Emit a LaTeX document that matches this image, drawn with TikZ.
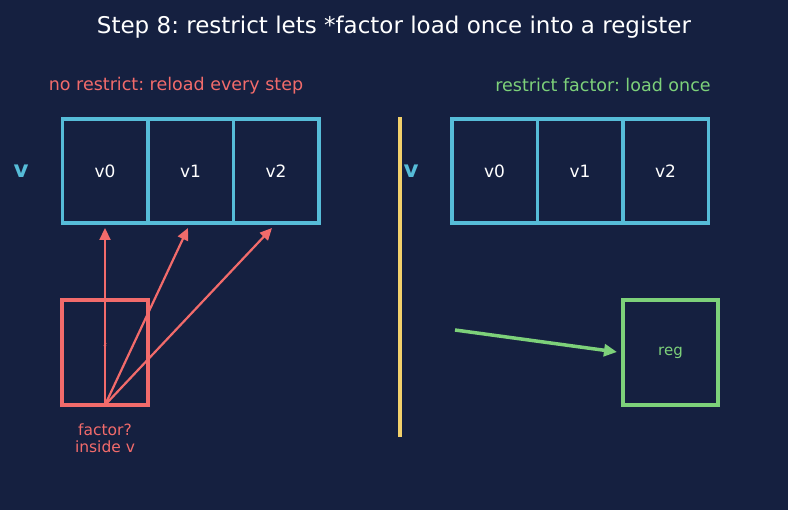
\documentclass[tikz,border=0pt]{standalone}
\usepackage{fontspec}
\setmainfont{DejaVu Sans}
\usetikzlibrary{arrows.meta}
\definecolor{bg}{HTML}{152040}
\definecolor{cy}{HTML}{56BCD8}
\definecolor{rd}{HTML}{F26B6B}
\definecolor{gn}{HTML}{7DD17A}
\definecolor{yl}{HTML}{F2D06B}
\frenchspacing
\begin{document}
\begin{tikzpicture}[x=1pt,y=-1pt,
  cell/.style={draw=cy,line width=3.5pt,minimum width=85.5pt,minimum height=104pt,inner sep=0pt,text=white,font=\fontsize{17}{20}\selectfont},
  vlab/.style={text=cy,font=\fontsize{23}{26}\selectfont\bfseries},
  redbox/.style={draw=rd,line width=3.5pt,minimum width=86pt,minimum height=105pt,inner sep=0pt},
  redarr/.style={draw=rd,line width=2.2pt,-{Triangle[length=12pt,width=11pt]}},
  heading/.style={font=\fontsize{17.5}{20}\selectfont}]
\fill[bg] (0,0) rectangle (788,510);
\useasboundingbox (0,0) rectangle (788,510);
\node[text=white,font=\fontsize{23}{27}\selectfont] (title) at (394,27.5) {Step 8: restrict lets *factor load once into a register};
\node[heading,text=rd] (lh) at (176,85.5) {no restrict: reload every step};
\node[heading,text=gn] (rh) at (603,85) {restrict factor: load once};
% left array
\node[cell] (l0) at (105,171) {v0};
\node[cell] (l1) at (190.5,171) {v1};
\node[cell] (l2) at (276,171) {v2};
\node[vlab] (lv) at (21,171) {v};
% right array
\node[cell] (r0) at (494.5,171) {v0};
\node[cell] (r1) at (580,171) {v1};
\node[cell] (r2) at (665.5,171) {v2};
\node[vlab] (rv) at (411,171) {v};
% divider
\coordinate (dt) at (400,117);
\coordinate (db) at (400,437);
\draw[yl,line width=4.5pt] (dt) -- (db);
% factor box
\node[redbox] (fb) at (105,352.5) {};
\coordinate (fs) at (105,405);
\coordinate (t0) at (105,228);
\coordinate (t1) at (188,228);
\coordinate (t2) at (272,228);
\draw[redarr] (fs) -- (t0);
\draw[redarr] (fs) -- (t1);
\draw[redarr] (fs) -- (t2);
\node[text=rd,font=\fontsize{9}{10}\selectfont,inner sep=0pt] (ff) at (105,347) {f};
\node[text=rd,font=\fontsize{15.5}{17}\selectfont,align=center] (fl) at (105,438) {factor?\\inside v};
% register
\node[draw=gn,line width=3.5pt,minimum width=95pt,minimum height=105pt,inner sep=0pt,text=gn,font=\fontsize{15}{17}\selectfont] (reg) at (670.5,352.5) {reg};
\coordinate (gs) at (455,330);
\draw[gn,line width=3.5pt,-{Triangle[length=13pt,width=12pt]}] (gs) -- (617,352);
\end{tikzpicture}
\end{document}
